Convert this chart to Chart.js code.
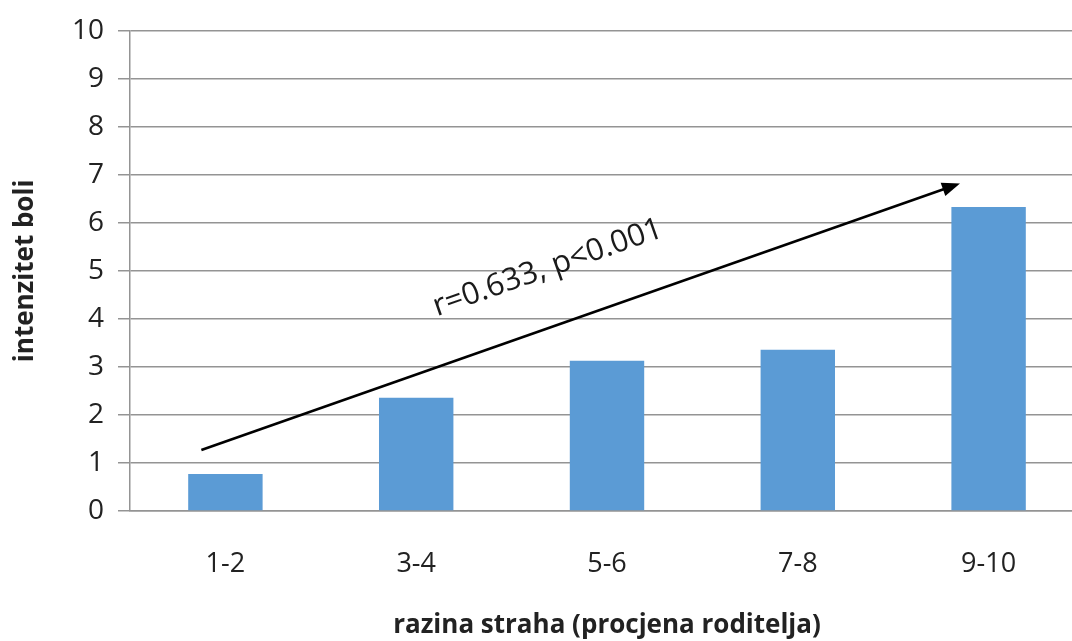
<!DOCTYPE html>
<html>
<head>
<meta charset="utf-8">
<script src="https://cdn.jsdelivr.net/npm/chart.js@4"></script>
<style>
html,body{margin:0;padding:0;background:#fff;overflow:hidden;}
#wrap{width:1090px;height:641px;position:relative;}
</style>
</head>
<body>
<div id="wrap"><canvas id="c" width="1090" height="641"></canvas></div>
<script>
const categories = ["1-2", "3-4", "5-6", "7-8", "9-10"];
const painIntensity = [0.77, 2.36, 3.13, 3.36, 6.33];
const yTicks = [0, 1, 2, 3, 4, 5, 6, 7, 8, 9, 10];
const xTitle = "razina straha (procjena roditelja)";
const yTitle = "intenzitet boli";
const annotationText = "r=0.633, p<0.001";
// arrow annotation in data units: [category index, value]
const arrowFrom = [-0.126, 1.27];
const arrowTo = [3.85, 6.82];
const textAt = [1.69, 5.06];

const FONT = "'Open Sans', 'DejaVu Sans', sans-serif";
const GRID = "#949494";

const arrowPlugin = {
  id: 'arrow',
  afterDatasetsDraw(chart) {
    const ctx = chart.ctx, xs = chart.scales.x, ys = chart.scales.y;
    const x1 = xs.getPixelForValue(arrowFrom[0]), y1 = ys.getPixelForValue(arrowFrom[1]);
    const x2 = xs.getPixelForValue(arrowTo[0]), y2 = ys.getPixelForValue(arrowTo[1]);
    const ang = Math.atan2(y2 - y1, x2 - x1);
    const hl = 18, hw = 7;
    ctx.save();
    ctx.strokeStyle = '#000';
    ctx.fillStyle = '#000';
    ctx.lineWidth = 2.5;
    ctx.beginPath();
    ctx.moveTo(x1, y1);
    ctx.lineTo(x2 - Math.cos(ang) * hl * 0.8, y2 - Math.sin(ang) * hl * 0.8);
    ctx.stroke();
    ctx.beginPath();
    ctx.moveTo(x2, y2);
    ctx.lineTo(x2 - Math.cos(ang) * hl - Math.sin(ang) * hw, y2 - Math.sin(ang) * hl + Math.cos(ang) * hw);
    ctx.lineTo(x2 - Math.cos(ang) * hl + Math.sin(ang) * hw, y2 - Math.sin(ang) * hl - Math.cos(ang) * hw);
    ctx.closePath();
    ctx.fill();
    const tx = xs.getPixelForValue(textAt[0]), ty = ys.getPixelForValue(textAt[1]);
    ctx.translate(tx, ty);
    ctx.rotate(ang);
    ctx.font = "31px " + FONT;
    ctx.fillStyle = '#1a1a1a';
    ctx.textAlign = 'center';
    ctx.textBaseline = 'middle';
    ctx.fillText(annotationText, 0, 0);
    ctx.restore();
  }
};

new Chart(document.getElementById('c'), {
  type: 'bar',
  data: {
    labels: categories,
    datasets: [{
      data: painIntensity,
      backgroundColor: '#5b9bd5',
      borderWidth: 0,
      categoryPercentage: 1,
      barPercentage: 0.39
    }]
  },
  options: {
    responsive: false,
    animation: false,
    layout: { padding: { top: 27, right: 6, left: 0, bottom: 0 } },
    plugins: { legend: { display: false }, tooltip: { enabled: false } },
    scales: {
      x: {
        grid: { display: false, drawTicks: false },
        border: { display: true, color: GRID, width: 1.5 },
        ticks: { font: { family: FONT, size: 27 }, color: '#222', padding: 37 },
        title: { display: true, text: xTitle, font: { family: FONT, size: 26, weight: 'bold' }, color: '#222', padding: { top: 0, bottom: 0 } },
        afterFit(s) { s.height = 130; }
      },
      y: {
        min: 0, max: 10,
        afterBuildTicks(s) { s.ticks = yTicks.map(v => ({ value: v })); },
        grid: { color: GRID, lineWidth: 1.5, tickLength: 12, drawTicks: true },
        border: { display: true, color: GRID, width: 1.5 },
        ticks: { font: { family: FONT, size: 28 }, color: '#222', padding: 14 },
        title: { display: true, text: yTitle, font: { family: FONT, size: 26, weight: 'bold' }, color: '#222', padding: { top: 10, bottom: 0 } },
        afterFit(s) { s.width = 130; }
      }
    }
  },
  plugins: [arrowPlugin]
});
</script>
</body>
</html>
